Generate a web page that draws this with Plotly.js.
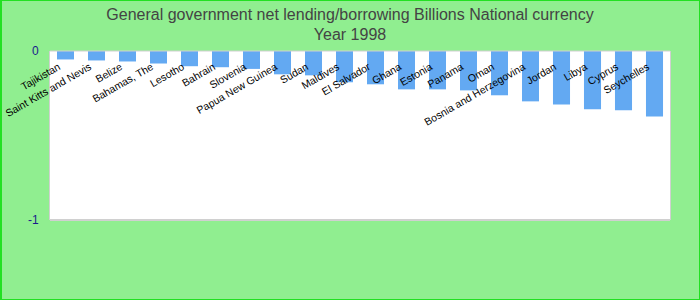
<!DOCTYPE html>
<html>
<head>
<meta charset="utf-8">
<script src="https://cdn.plot.ly/plotly-3.0.1.min.js"></script>
<style>
  html, body { margin: 0; padding: 0; background: #90ee90; }
  #wrap { position: relative; width: 700px; height: 300px; }
  #chart { position: absolute; left: 0; top: 0; width: 700px; height: 300px; }
  #frame { position: absolute; left: 0; top: 0; width: 700px; height: 300px;
           box-sizing: border-box; border: 1px solid #22e022; border-left-width: 2px;
           pointer-events: none; }
</style>
</head>
<body>
<div id="wrap">
  <div id="chart"></div>
  <div id="frame"></div>
</div>
<script>
// Net lending/borrowing by country, 1998 (billions, national currency)
const countries = [
  "Tajikistan", "Saint Kitts and Nevis", "Belize", "Bahamas, The", "Lesotho",
  "Bahrain", "Slovenia", "Papua New Guinea", "Sudan", "Maldives",
  "El Salvador", "Ghana", "Estonia", "Panama", "Oman",
  "Bosnia and Herzegovina", "Jordan", "Libya", "Cyprus", "Seychelles"
];
const values = [
  -0.050, -0.056, -0.062, -0.074, -0.090,
  -0.096, -0.106, -0.138, -0.144, -0.185,
  -0.197, -0.227, -0.227, -0.233, -0.262,
  -0.298, -0.316, -0.345, -0.351, -0.387
];
const yTickValues = [0, -1];
const yTickLabels = ["0", "-1"];

const trace = {
  type: "bar",
  x: countries,
  y: values,
  marker: { color: "#63a9f2" },
  hoverinfo: "x+y"
};

const frameLine = { color: "#d0d0d0", width: 2 };

const layout = {
  width: 700,
  height: 300,
  paper_bgcolor: "#90ee90",
  plot_bgcolor: "#ffffff",
  margin: { l: 50, r: 30, t: 51, b: 80 },
  showlegend: false,
  bargap: 0.45,
  font: { family: "Liberation Sans, Arial, sans-serif" },
  title: {
    text: "General government net lending/borrowing Billions National currency<br>Year 1998",
    font: { size: 16, color: "#444444", family: "Liberation Sans, Arial, sans-serif" },
    x: 0.5,
    xref: "container",
    y: 0.935,
    yanchor: "top"
  },
  // category axis sits on the zero line, its labels hanging down into the plot
  xaxis: {
    type: "category",
    anchor: "free",
    position: 1,
    side: "bottom",
    tickangle: -30,
    tickfont: { size: 10.5, color: "#000000" },
    ticklabelshift: -7,
    ticklabelstandoff: 7,
    showgrid: false,
    zeroline: false,
    showline: false,
    ticks: ""
  },
  yaxis: {
    range: [-1, 0],
    domain: [0, 1],
    tickvals: yTickValues,
    ticktext: yTickLabels,
    tickfont: { size: 12, color: "#1a1a8c" },
    ticklabelstandoff: 8,
    showgrid: false,
    zeroline: false,
    showline: true,
    mirror: true,
    linecolor: "#d0d0d0",
    linewidth: 1,
    ticks: "",
    fixedrange: true
  },
  // light frame along the bottom and top edges of the plot area
  shapes: [
    { type: "line", xref: "paper", yref: "paper", x0: 0, x1: 1, y0: 0, y1: 0, line: frameLine },
    { type: "line", xref: "paper", yref: "paper", x0: 0, x1: 1, y0: 1, y1: 1, line: { color: "#d0d0d0", width: 1 } }
  ]
};

Plotly.newPlot("chart", [trace], layout, { displayModeBar: false, staticPlot: true });
</script>
</body>
</html>
